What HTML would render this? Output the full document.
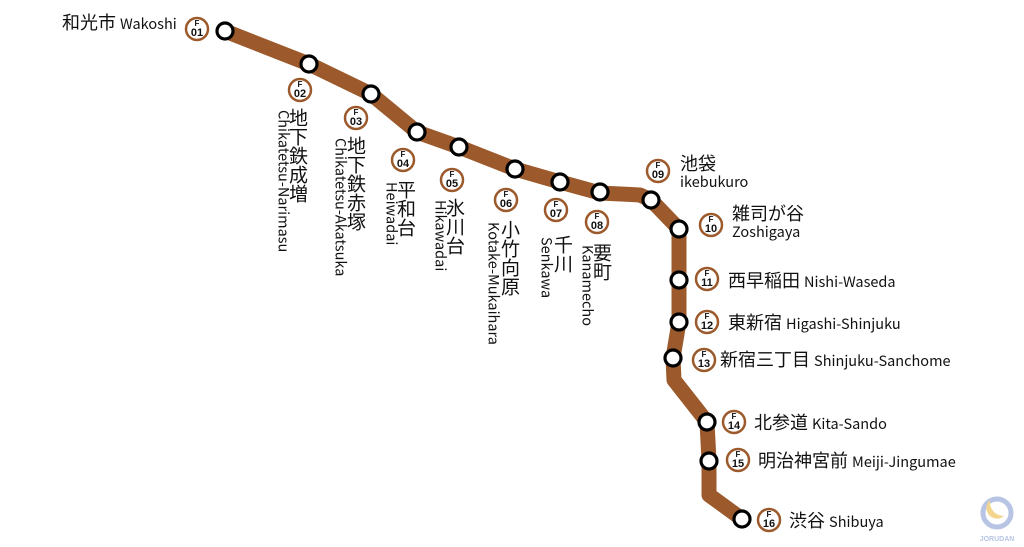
<!DOCTYPE html>
<html><head><meta charset="utf-8"><style>
body{margin:0;background:#fff}
#c{position:relative;width:1024px;height:547px;overflow:hidden;background:#fff;font-family:"Noto Sans CJK JP","Liberation Sans",sans-serif;color:#111}
.t{position:absolute;white-space:nowrap;line-height:1}
.j{font-size:18px}
.e{font-size:14.5px}
.v{position:absolute;writing-mode:vertical-rl;white-space:nowrap;line-height:1}
.v.j{font-size:19px}
svg{position:absolute;left:0;top:0}
</style></head><body><div id="c">
<svg width="1024" height="547">
<polyline points="225,31 309,64 371,94 417,132 459,147 515,169 560,182 600,193 640,195 651,200 679,229 679,322 673,358 674,380 707,422 709,461 709,495 742,519" fill="none" stroke="#9c5a2c" stroke-width="15" stroke-linejoin="round"/>
<g fill="#fff" stroke="#000" stroke-width="3.2">
<circle cx="225" cy="31" r="8"/><circle cx="309" cy="64" r="8"/><circle cx="371" cy="94" r="8"/><circle cx="417" cy="132" r="8"/><circle cx="459" cy="147" r="8"/><circle cx="515" cy="169" r="8"/><circle cx="560" cy="182" r="8"/><circle cx="600" cy="192" r="8"/><circle cx="651" cy="200" r="8"/><circle cx="679" cy="229" r="8"/><circle cx="679" cy="280" r="8"/><circle cx="679" cy="322" r="8"/><circle cx="673" cy="358" r="8"/><circle cx="707" cy="422" r="8"/><circle cx="709" cy="461" r="8"/><circle cx="742" cy="519" r="8"/>
</g>
<g fill="#fff" stroke="#9c5a2c" stroke-width="2.5">
<circle cx="197" cy="29" r="11"/><circle cx="300" cy="90" r="11"/><circle cx="356" cy="118" r="11"/><circle cx="403" cy="160" r="11"/><circle cx="452" cy="180" r="11"/><circle cx="506" cy="200" r="11"/><circle cx="556" cy="210" r="11"/><circle cx="597" cy="222" r="11"/><circle cx="658" cy="171" r="11"/><circle cx="711" cy="225" r="11"/><circle cx="707" cy="279" r="11"/><circle cx="707" cy="322" r="11"/><circle cx="704" cy="360" r="11"/><circle cx="734" cy="422" r="11"/><circle cx="738" cy="460" r="11"/><circle cx="769" cy="520" r="11"/>
</g>
<g font-family="Liberation Sans,sans-serif" font-weight="bold" text-anchor="middle" fill="#111" font-size="8">
<text x="197" y="26">F</text><text x="197" y="36" font-size="11">01</text>
<text x="300" y="87">F</text><text x="300" y="97" font-size="11">02</text>
<text x="356" y="115">F</text><text x="356" y="125" font-size="11">03</text>
<text x="403" y="157">F</text><text x="403" y="167" font-size="11">04</text>
<text x="452" y="177">F</text><text x="452" y="187" font-size="11">05</text>
<text x="506" y="197">F</text><text x="506" y="207" font-size="11">06</text>
<text x="556" y="207">F</text><text x="556" y="217" font-size="11">07</text>
<text x="597" y="219">F</text><text x="597" y="229" font-size="11">08</text>
<text x="658" y="168">F</text><text x="658" y="178" font-size="11">09</text>
<text x="711" y="222">F</text><text x="711" y="232" font-size="11">10</text>
<text x="707" y="276">F</text><text x="707" y="286" font-size="11">11</text>
<text x="707" y="319">F</text><text x="707" y="329" font-size="11">12</text>
<text x="704" y="357">F</text><text x="704" y="367" font-size="11">13</text>
<text x="734" y="419">F</text><text x="734" y="429" font-size="11">14</text>
<text x="738" y="457">F</text><text x="738" y="467" font-size="11">15</text>
<text x="769" y="517">F</text><text x="769" y="527" font-size="11">16</text>
</g>
<circle cx="997" cy="513" r="14" fill="none" stroke="#b8c4e4" stroke-width="5"/>
<path d="M990,500 a10,10 0 0 0 14,16 a14,14 0 0 1 -14,-16z" fill="#f3d58e"/>
<text x="997" y="541" font-family="Liberation Sans,sans-serif" font-size="7" font-weight="bold" fill="#b8c4e4" text-anchor="middle">JORUDAN</text>
</svg>

<div class="t j" style="left:62px;top:13px">和光市 <span class="e">Wakoshi</span></div>

<div class="v j" style="left:289px;top:108px">地下鉄成増</div>
<div class="v e" style="left:276px;top:110px">Chikatetsu-Narimasu</div>
<div class="v j" style="left:347px;top:136px">地下鉄赤塚</div>
<div class="v e" style="left:333px;top:138px">Chikatetsu-Akatsuka</div>
<div class="v j" style="left:397px;top:180px">平和台</div>
<div class="v e" style="left:384px;top:182px">Heiwadai</div>
<div class="v j" style="left:446px;top:198px">氷川台</div>
<div class="v e" style="left:433px;top:200px">Hikawadai</div>
<div class="v j" style="left:501px;top:220px">小竹向原</div>
<div class="v e" style="left:486px;top:222px">Kotake-Mukaihara</div>
<div class="v j" style="left:554px;top:235px">千川</div>
<div class="v e" style="left:539px;top:237px">Senkawa</div>
<div class="v j" style="left:593px;top:243px">要町</div>
<div class="v e" style="left:580px;top:245px">Kanamecho</div>

<div class="t j" style="left:680px;top:154px">池袋</div>
<div class="t e" style="left:680px;top:175px">ikebukuro</div>
<div class="t j" style="left:732px;top:204px">雑司が谷</div>
<div class="t e" style="left:732px;top:225px">Zoshigaya</div>
<div class="t j" style="left:728px;top:271px">西早稲田 <span class="e">Nishi-Waseda</span></div>
<div class="t j" style="left:728px;top:313px">東新宿 <span class="e">Higashi-Shinjuku</span></div>
<div class="t j" style="left:720px;top:350px">新宿三丁目 <span class="e">Shinjuku-Sanchome</span></div>
<div class="t j" style="left:754px;top:413px">北参道 <span class="e">Kita-Sando</span></div>
<div class="t j" style="left:758px;top:451px">明治神宮前 <span class="e">Meiji-Jingumae</span></div>
<div class="t j" style="left:789px;top:511px">渋谷 <span class="e">Shibuya</span></div>
</div></body></html>
